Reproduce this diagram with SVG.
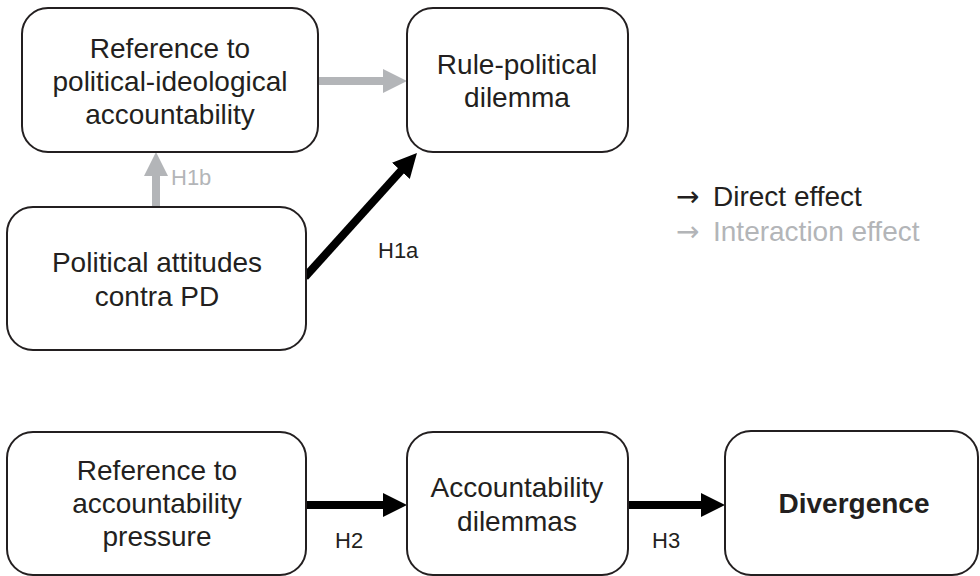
<svg xmlns="http://www.w3.org/2000/svg" width="980" height="576" viewBox="0 0 980 576">
<style>
.box{fill:#fff;stroke:#231f20;stroke-width:2}
.t{font-family:"Liberation Sans",Arial,sans-serif;font-size:28px;fill:#231f20;text-anchor:middle}
.b{font-weight:bold}
.lbl{font-family:"Liberation Sans",Arial,sans-serif;font-size:22px;fill:#231f20}
.gl{fill:#b3b5b8}
.leg{font-family:"Liberation Sans",Arial,sans-serif;font-size:28px}
.arr{font-family:"DejaVu Sans",sans-serif;font-size:28px}
.blk{stroke:#000;stroke-width:8;fill:none}
.gry{stroke:#b3b5b8;stroke-width:8;fill:none}
</style>
<defs>
<marker id="ab" markerUnits="userSpaceOnUse" markerWidth="24" markerHeight="24" viewBox="0 0 24 24" refX="6" refY="12" orient="auto"><path d="M0,0 L24,12 L0,24 Z" fill="#000"/></marker>
</defs>
<g id="connectors">
<line class="gry" x1="319" y1="81" x2="386" y2="81"/>
<path d="M383,69 L407,81 L383,93 Z" fill="#b3b5b8"/>
<line class="gry" x1="156" y1="206" x2="156" y2="174"/>
<path d="M144,176 L156,152 L168,176 Z" fill="#b3b5b8"/>
<line class="blk" x1="305" y1="277" x2="404.9" y2="166.4" marker-end="url(#ab)"/>
<line class="blk" x1="307" y1="505" x2="385" y2="505"/>
<path d="M383,493 L407,505 L383,517 Z" fill="#000"/>
<line class="blk" x1="629" y1="505" x2="703" y2="505"/>
<path d="M701,493 L725,505 L701,517 Z" fill="#000"/>
<text class="lbl gl" x="171" y="185">H1b</text>
<text class="lbl" x="378" y="258">H1a</text>
<text class="lbl" x="335" y="548">H2</text>
<text class="lbl" x="652" y="548">H3</text>
</g>
<g id="node-ref-political">
<rect class="box" x="22" y="8" width="296" height="144" rx="26"/>
<text class="t" x="170" y="58">Reference to</text>
<text class="t" x="170" y="91">political-ideological</text>
<text class="t" x="170" y="124">accountability</text>
</g>
<g id="node-rule-political">
<rect class="box" x="407" y="8" width="221" height="144" rx="26"/>
<text class="t" x="517" y="74">Rule-political</text>
<text class="t" x="517" y="107">dilemma</text>
</g>
<g id="node-political-attitudes">
<rect class="box" x="7" y="207" width="299" height="143" rx="26"/>
<text class="t" x="157" y="272">Political attitudes</text>
<text class="t" x="157" y="306">contra PD</text>
</g>
<g id="node-ref-accountability">
<rect class="box" x="7" y="432" width="299" height="143" rx="26"/>
<text class="t" x="157" y="480">Reference to</text>
<text class="t" x="157" y="513">accountability</text>
<text class="t" x="157" y="546">pressure</text>
</g>
<g id="node-accountability-dilemmas">
<rect class="box" x="407" y="432" width="221" height="143" rx="26"/>
<text class="t" x="517" y="497">Accountability</text>
<text class="t" x="517" y="531">dilemmas</text>
</g>
<g id="node-divergence">
<rect class="box" x="725" y="431" width="253" height="144" rx="26"/>
<text class="t b" x="854" y="513">Divergence</text>
</g>
<g id="legend">
<text class="arr" x="676" y="206" fill="#231f20">→</text>
<text class="leg" x="713" y="206" fill="#231f20">Direct effect</text>
<text class="arr" x="676" y="241" fill="#b3b5b8">→</text>
<text class="leg" x="713" y="241" fill="#b3b5b8">Interaction effect</text>
</g>
</svg>
